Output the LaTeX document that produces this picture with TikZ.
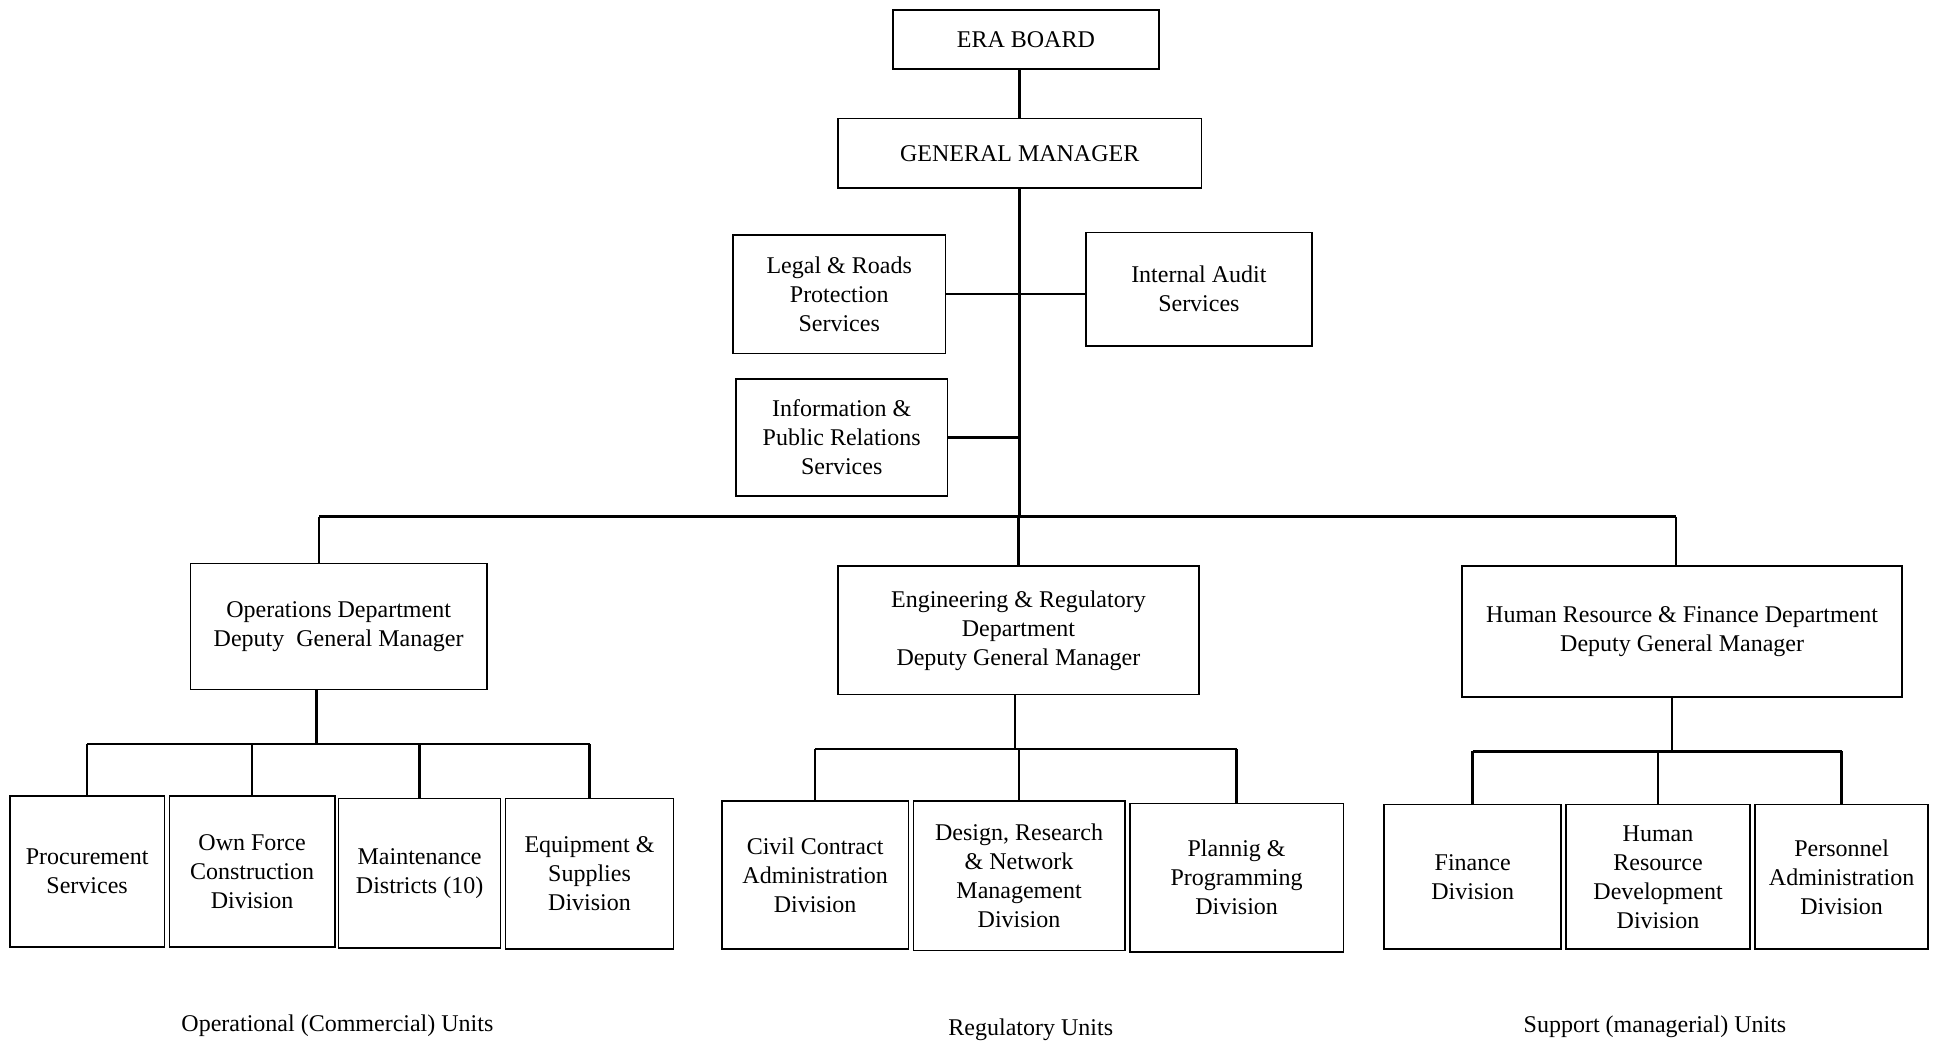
\documentclass[tikz,border=0pt]{standalone}
\usepackage{fontspec}
\setmainfont{Liberation Serif}
\tikzstyle{box}=[fill=white, draw=black, line width=0.8pt, shape=rectangle, align=center, inner sep=2pt, font=\fontsize{12}{14.5}\selectfont]
\tikzstyle{lnk}=[draw=black, line width=1.2pt]
\tikzstyle{unitlabel}=[font=\fontsize{12}{14.5}\selectfont]

\begin{document}
\begin{tikzpicture}[x=0.618pt, y=-0.618pt]
		\useasboundingbox (0,0) rectangle (1568,845);

		\node[style=box, minimum width=132.9pt, minimum height=29.7pt] (1) at (830,32) {ERA BOARD};
		\node[style=box, minimum width=181.7pt, minimum height=34.6pt] (2) at (825,124) {GENERAL MANAGER};
		\node[style=box, minimum width=106.3pt, minimum height=59.3pt] (3) at (679,238) {Legal \& Roads\\Protection\\Services};
		\node[style=box, minimum width=113.1pt, minimum height=56.9pt] (4) at (970,234) {Internal Audit\\Services};
		\node[style=box, minimum width=105.7pt, minimum height=58.7pt] (5) at (681,354) {Information \&\\Public Relations\\Services};

		\node[style=box, minimum width=148.3pt, minimum height=63.0pt] (6) at (274,507) {Operations Department\\Deputy\ \ General Manager};
		\node[style=box, minimum width=180.5pt, minimum height=64.3pt] (7) at (824,510) {Engineering \& Regulatory\\Department\\Deputy General Manager};
		\node[style=box, minimum width=220.0pt, minimum height=65.5pt] (8) at (1361,511) {Human Resource \& Finance Department\\Deputy General Manager};

		\node[style=box, minimum width=77.3pt, minimum height=75.4pt] (9) at (70.5,705) {Procurement\\Services};
		\node[style=box, minimum width=82.8pt, minimum height=75.4pt] (10) at (204,705) {Own Force\\Construction\\Division};
		\node[style=box, minimum width=81.0pt, minimum height=74.8pt] (11) at (339.5,706.5) {Maintenance\\Districts (10)};
		\node[style=box, minimum width=84.0pt, minimum height=75.4pt] (12) at (477,707) {Equipment \&\\Supplies\\Division};

		\node[style=box, minimum width=93.3pt, minimum height=74.2pt] (13) at (659.5,708) {Civil Contract\\Administration\\Division};
		\node[style=box, minimum width=105.7pt, minimum height=74.8pt] (14) at (824.5,708.5) {Design, Research\\\& Network\\Management\\Division};
		\node[style=box, minimum width=106.9pt, minimum height=74.2pt] (15) at (1000.5,710) {Plannig \&\\Programming\\Division};

		\node[style=box, minimum width=88.4pt, minimum height=72.3pt] (16) at (1191.5,709.5) {Finance\\Division};
		\node[style=box, minimum width=92.1pt, minimum height=72.3pt] (17) at (1341.5,709.5) {Human\\Resource\\Development\\Division};
		\node[style=box, minimum width=86.5pt, minimum height=72.3pt] (18) at (1490,709.5) {Personnel\\Administration\\Division};

		\coordinate (21) at (258,418);
		\coordinate (22) at (1356,418);
		\coordinate (23) at (256,602);
		\coordinate (24) at (821,606);
		\coordinate (25) at (1353,608);

		\draw[style=lnk] (2.north |- 1.south) to (2.north);
		\draw[style=lnk] (2.south) to (2.south |- 21);
		\draw[style=lnk] (3.east) to (3.east -| 4.west);
		\draw[style=lnk] (5.east) to (5.east -| 2.south);
		\draw[style=lnk] (21) to (22);
		\draw[style=lnk] (21) to (21 |- 6.north);
		\draw[style=lnk] (7.north |- 21) to (7.north);
		\draw[style=lnk] (22) to (22 |- 8.north);

		\draw[style=lnk] (23 |- 6.south) to (23);
		\draw[style=lnk] (9.north |- 23) to (12.north |- 23);
		\draw[style=lnk] (9.north |- 23) to (9.north);
		\draw[style=lnk] (10.north |- 23) to (10.north);
		\draw[style=lnk] (11.north |- 23) to (11.north);
		\draw[style=lnk] (12.north |- 23) to (12.north);

		\draw[style=lnk] (24 |- 7.south) to (24);
		\draw[style=lnk] (13.north |- 24) to (15.north |- 24);
		\draw[style=lnk] (13.north |- 24) to (13.north);
		\draw[style=lnk] (14.north |- 24) to (14.north);
		\draw[style=lnk] (15.north |- 24) to (15.north);

		\draw[style=lnk] (25 |- 8.south) to (25);
		\draw[style=lnk] (16.north |- 25) to (18.north |- 25);
		\draw[style=lnk] (16.north |- 25) to (16.north);
		\draw[style=lnk] (17.north |- 25) to (17.north);
		\draw[style=lnk] (18.north |- 25) to (18.north);

		\node[style=unitlabel] (26) at (273,830) {Operational (Commercial) Units};
		\node[style=unitlabel] (27) at (834,833) {Regulatory Units};
		\node[style=unitlabel] (28) at (1339,831) {Support (managerial) Units};
	\end{tikzpicture}
\end{document}
